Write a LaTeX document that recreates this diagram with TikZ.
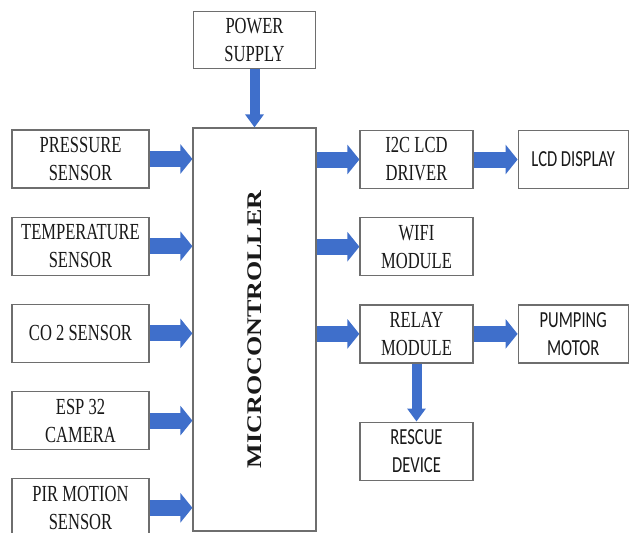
\documentclass[tikz,border=0pt]{standalone}
\usepackage{fontspec}
\usepackage{graphicx}
\setmainfont{Liberation Serif}
\newfontfamily\tnrfont[FakeStretch=0.72]{Liberation Serif}
\newfontfamily\calfont[FakeStretch=0.72]{Carlito}
\usepackage{tikz}
\usetikzlibrary{arrows.meta,positioning}
\definecolor{arrowblue}{HTML}{3F6FCB}
\definecolor{boxgray}{HTML}{6E6E6E}

\begin{document}
\begin{tikzpicture}[
  x=1pt,y=1pt,
  node distance=28pt and 44pt,
  box/.style={draw=boxgray,line width=1.2pt,fill=white,align=center,inner sep=0pt,minimum width=137pt,minimum height=58pt,text=black!90,font=\tnrfont\fontsize{23}{28}\selectfont},
  outbox/.style={box,minimum width=113pt},
  sans/.style={font=\calfont\fontsize{23}{28}\selectfont},
  harrow/.style={-{Triangle[width=29pt,length=12pt]},line width=16pt,arrowblue},
  varrow/.style={-{Triangle[width=18pt,length=13pt]},line width=10pt,arrowblue}
]
\useasboundingbox (0,0) rectangle (630,-533);
\node[box,minimum width=123pt,minimum height=403pt] (mcu) at (254.5,-329.5) {\rotatebox{90}{\scalebox{1}[0.8]{\rmfamily\bfseries\fontsize{26}{30}\selectfont MICROCONTROLLER}}};
\node[box,minimum width=122pt,minimum height=57pt,above=58pt of mcu] (power) {POWER\\SUPPLY};
\node[box] (pressure) at (80.5,-159) {PRESSURE\\SENSOR};
\node[box,below=of pressure] (temp) {TEMPERATURE\\SENSOR};
\node[box,below=of temp] (co2) {CO 2 SENSOR};
\node[box,below=of co2] (esp) {ESP 32\\CAMERA};
\node[box,below=of esp] (pir) {PIR MOTION\\SENSOR};
\node[outbox] (i2c) at (416.5,-159.5) {I2C LCD\\DRIVER};
\node[outbox,below=of i2c] (wifi) {WIFI\\MODULE};
\node[outbox,below=of wifi] (relay) {RELAY\\MODULE};
\node[outbox,sans,below=58pt of relay] (rescue) {RESCUE\\DEVICE};
\node[box,sans,minimum width=110pt,right=44pt of i2c] (lcd) {LCD DISPLAY};
\node[box,sans,minimum width=110pt,right=44pt of relay] (pump) {PUMPING\\MOTOR};
\draw[varrow] (power) -- (power |- mcu.north);
\draw[harrow] (pressure) -- (pressure -| mcu.west);
\draw[harrow] (temp) -- (temp -| mcu.west);
\draw[harrow] (co2) -- (co2 -| mcu.west);
\draw[harrow] (esp) -- (esp -| mcu.west);
\draw[harrow] (pir) -- (pir -| mcu.west);
\draw[harrow] (i2c -| mcu.east) -- (i2c);
\draw[harrow] (wifi -| mcu.east) -- (wifi);
\draw[harrow] (relay -| mcu.east) -- (relay);
\draw[harrow] (i2c) -- (lcd);
\draw[harrow] (relay) -- (pump);
\draw[varrow] (relay) -- (rescue);
\end{tikzpicture}
\end{document}
